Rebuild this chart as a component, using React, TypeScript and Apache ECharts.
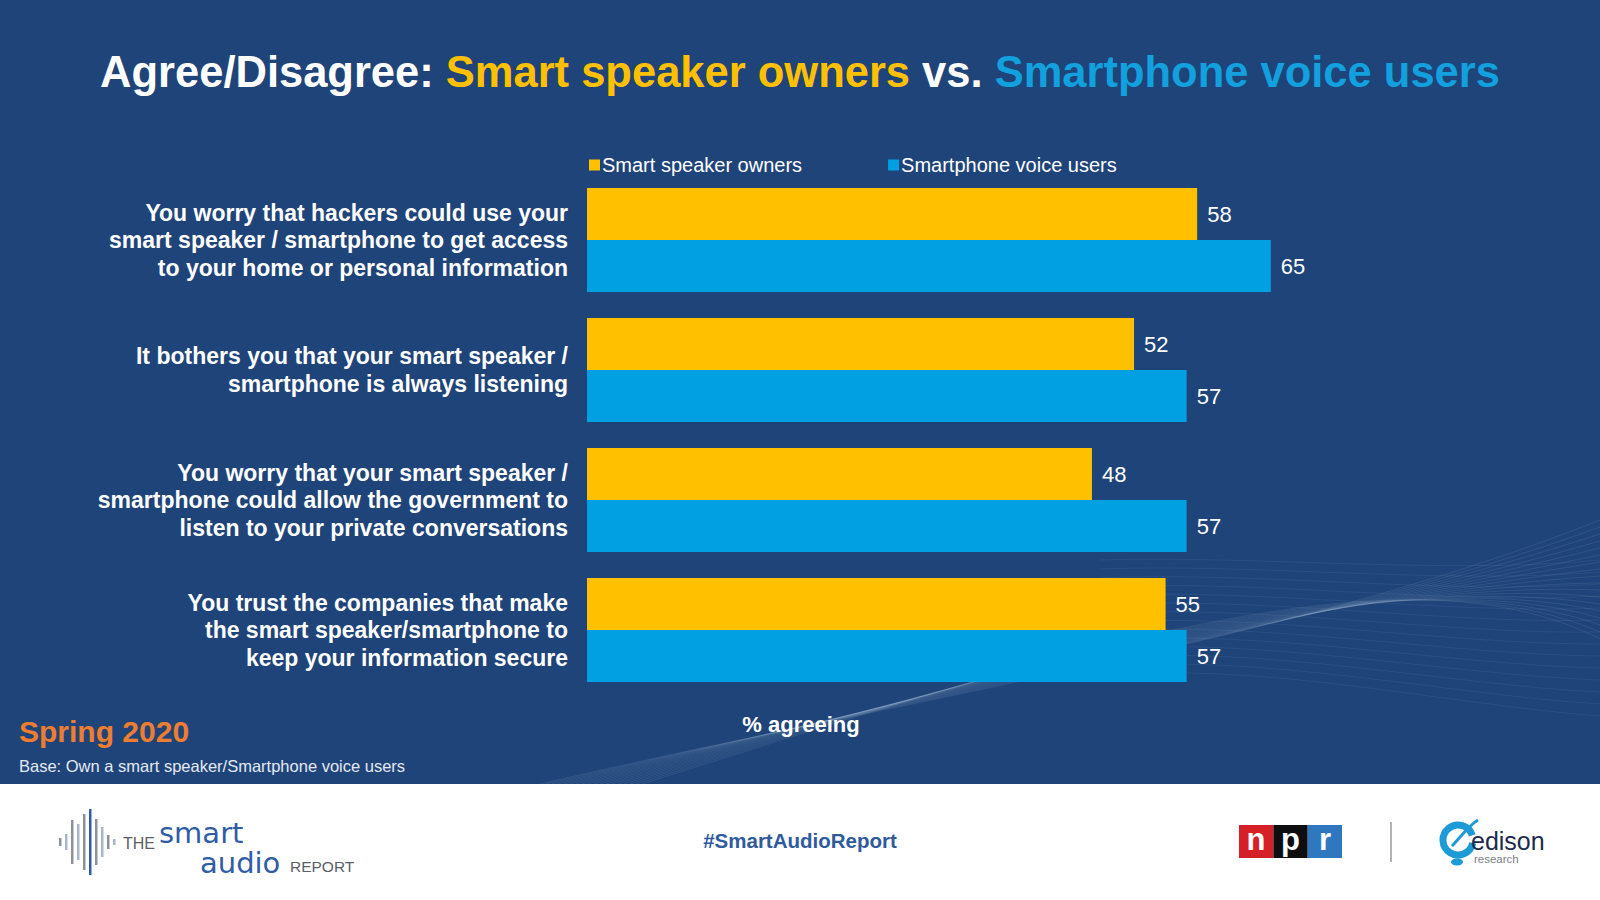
import React, { useEffect, useRef } from "react";
import * as echarts from "echarts";

const categories = [
  "You worry that hackers could use your\nsmart speaker / smartphone to get access\nto your home or personal information",
  "It bothers you that your smart speaker /\nsmartphone is always listening",
  "You worry that your smart speaker /\nsmartphone could allow the government to\nlisten to your private conversations",
  "You trust the companies that make\nthe smart speaker/smartphone to\nkeep your information secure",
];
const seriesNames = ["Smart speaker owners", "Smartphone voice users"];
const smartSpeakerOwners = [58, 52, 48, 55];
const smartphoneVoiceUsers = [65, 57, 57, 57];

const BG = "#1F4479";
const YELLOW = "#FFC000";
const BLUE = "#00A0E2";
const FONT = "Liberation Sans, Arial, sans-serif";

function waveLines(): any[] {
  const out: any[] = [];
  for (let i = 0; i < 18; i++) {
    out.push({
      type: "bezierCurve",
      silent: true,
      shape: {
        x1: 540 + i * 6,
        y1: 784,
        cpx1: 900 + i * 10,
        cpy1: 700 - i * 3,
        cpx2: 1300 + i * 6,
        cpy2: 640 - i * 6,
        x2: 1600,
        y2: 520 + i * 7,
      },
      style: { stroke: "rgba(200,215,240,0.10)", lineWidth: 1, fill: null },
    });
  }
  for (let i = 0; i < 14; i++) {
    out.push({
      type: "bezierCurve",
      silent: true,
      shape: {
        x1: 1100,
        y1: 560 + i * 9,
        cpx1: 1250,
        cpy1: 555 + i * 8,
        cpx2: 1450,
        cpy2: 575 + i * 10,
        x2: 1600,
        y2: 560 + i * 12,
      },
      style: { stroke: "rgba(200,215,240,0.07)", lineWidth: 1, fill: null },
    });
  }
  return out;
}

function logoBars(): any[] {
  const xs = [59, 65, 71, 77, 83, 89, 95, 101, 107, 113];
  const hs = [8, 16, 44, 36, 56, 66, 46, 30, 14, 6];
  return xs.map((x, i) => ({
    type: "rect",
    silent: true,
    shape: { x: x, y: 842 - hs[i] / 2, width: 2.5, height: hs[i] },
    style: { fill: i === 5 ? "#2F5DA5" : i % 2 === 0 ? "#8C929C" : "#A9B6CC" },
  }));
}

export default function App() {
  const ref = useRef<HTMLDivElement>(null);
  useEffect(() => {
    if (!ref.current) return;
    const chart = echarts.init(ref.current, null, { renderer: "svg" });
    const option: any = {
      animation: false,
      backgroundColor: BG,
      title: {
        text:
          "{w|Agree/Disagree: }{y|Smart speaker owners}{w| vs. }{b|Smartphone voice users}",
        left: "center",
        top: 41,
        textStyle: {
          rich: {
            w: { color: "#FFFFFF", fontSize: 43.5, fontWeight: "bold", fontFamily: FONT, lineHeight: 52 },
            y: { color: YELLOW, fontSize: 43.5, fontWeight: "bold", fontFamily: FONT, lineHeight: 52 },
            b: { color: "#12A0DE", fontSize: 43.5, fontWeight: "bold", fontFamily: FONT, lineHeight: 52 },
          },
        },
      },
      legend: {
        left: 584,
        top: 150,
        icon: "rect",
        itemWidth: 11,
        itemHeight: 11,
        itemGap: 86,
        data: seriesNames,
        textStyle: { color: "#FFFFFF", fontSize: 20, fontFamily: FONT, padding: [0, 0, 0, -3] },
      },
      grid: { left: 587, top: 175, width: 841.6, height: 520, containLabel: false },
      xAxis: {
        type: "value",
        min: 0,
        max: 80,
        show: false,
        splitLine: { show: false },
      },
      yAxis: {
        type: "category",
        inverse: true,
        data: categories,
        axisLine: { show: false },
        axisTick: { show: false },
        axisLabel: {
          color: "#FFFFFF",
          fontSize: 23,
          fontWeight: "bold",
          fontFamily: FONT,
          lineHeight: 27.5,
          margin: 19,
          align: "right",
          padding: [4, 0, 0, 0],
        },
      },
      series: [
        {
          name: seriesNames[0],
          type: "bar",
          data: smartSpeakerOwners,
          barWidth: 52,
          barGap: "0%",
          itemStyle: { color: YELLOW },
          label: {
            show: true,
            position: "right",
            distance: 10,
            color: "#FFFFFF",
            fontSize: 22,
            fontFamily: FONT,
          },
        },
        {
          name: seriesNames[1],
          type: "bar",
          data: smartphoneVoiceUsers,
          barWidth: 52,
          barGap: "0%",
          itemStyle: { color: BLUE },
          label: {
            show: true,
            position: "right",
            distance: 10,
            color: "#FFFFFF",
            fontSize: 22,
            fontFamily: FONT,
          },
        },
      ],
      graphic: [
        ...waveLines(),
        {
          type: "rect",
          silent: true,
          shape: { x: 0, y: 784, width: 1600, height: 116 },
          style: { fill: "#FFFFFF" },
        },
        {
          type: "text",
          x: 801,
          y: 724,
          style: {
            text: "% agreeing",
            fill: "#FFFFFF",
            font: "bold 22px " + FONT,
            textAlign: "center",
            textVerticalAlign: "middle",
          },
        },
        {
          type: "text",
          x: 19,
          y: 731,
          style: {
            text: "Spring 2020",
            fill: "#ED7D31",
            font: "bold 30px " + FONT,
            textAlign: "left",
            textVerticalAlign: "middle",
          },
        },
        {
          type: "text",
          x: 19,
          y: 766,
          style: {
            text: "Base: Own a smart speaker/Smartphone voice users",
            fill: "#E4E9F2",
            font: "16.5px " + FONT,
            textAlign: "left",
            textVerticalAlign: "middle",
          },
        },
        {
          type: "text",
          x: 800,
          y: 840,
          style: {
            text: "#SmartAudioReport",
            fill: "#2F5A9C",
            font: "bold 20.5px " + FONT,
            textAlign: "center",
            textVerticalAlign: "middle",
          },
        },
        ...logoBars(),
        {
          type: "text",
          x: 123,
          y: 843,
          style: { text: "THE", fill: "#5A5F68", font: "16px " + FONT, textVerticalAlign: "middle", lineHeight: 16 },
        },
        {
          type: "text",
          x: 159,
          y: 833,
          style: { text: "smart", fill: "#2F5DA5", font: "29px 'DejaVu Sans', sans-serif", textVerticalAlign: "middle", lineHeight: 22 },
        },
        {
          type: "text",
          x: 200,
          y: 863,
          style: { text: "audio", fill: "#2F5DA5", font: "29px 'DejaVu Sans', sans-serif", textVerticalAlign: "middle", lineHeight: 22 },
        },
        {
          type: "text",
          x: 290,
          y: 866,
          style: { text: "REPORT", fill: "#5A5F68", font: "15.5px " + FONT, textVerticalAlign: "middle", lineHeight: 14 },
        },
        {
          type: "rect",
          silent: true,
          shape: { x: 1239, y: 825, width: 34.4, height: 33 },
          style: { fill: "#D62028" },
        },
        {
          type: "rect",
          silent: true,
          shape: { x: 1273.4, y: 825, width: 34.3, height: 33 },
          style: { fill: "#0E0E10" },
        },
        {
          type: "rect",
          silent: true,
          shape: { x: 1307.7, y: 825, width: 34.3, height: 33 },
          style: { fill: "#2F78C0" },
        },
        {
          type: "text",
          x: 1256,
          y: 839,
          style: { text: "n", fill: "#FFFFFF", font: "bold 31px " + FONT, textAlign: "center", textVerticalAlign: "middle" },
        },
        {
          type: "text",
          x: 1290.5,
          y: 839,
          style: { text: "p", fill: "#FFFFFF", font: "bold 31px " + FONT, textAlign: "center", textVerticalAlign: "middle" },
        },
        {
          type: "text",
          x: 1325,
          y: 839,
          style: { text: "r", fill: "#FFFFFF", font: "bold 31px " + FONT, textAlign: "center", textVerticalAlign: "middle" },
        },
        {
          type: "line",
          silent: true,
          shape: { x1: 1391, y1: 822, x2: 1391, y2: 862 },
          style: { stroke: "#9A9A9A", lineWidth: 1.5 },
        },
        {
          type: "arc",
          silent: true,
          shape: { cx: 1458, cy: 840, r: 15, startAngle: 0.2, endAngle: Math.PI * 1.9 },
          style: { stroke: "#1E9BD7", lineWidth: 7, fill: null },
        },
        {
          type: "bezierCurve",
          silent: true,
          shape: { x1: 1452, y1: 846, cpx1: 1460, cpy1: 838, cpx2: 1468, cpy2: 826, x2: 1478, y2: 820 },
          style: { stroke: "#1E9BD7", lineWidth: 3, fill: null },
        },
        {
          type: "ellipse",
          silent: true,
          shape: { cx: 1457, cy: 862, rx: 6, ry: 3.5 },
          style: { fill: "#1E9BD7" },
        },
        {
          type: "text",
          x: 1471,
          y: 841,
          style: { text: "edison", fill: "#1C2B4D", font: "25px " + FONT, textVerticalAlign: "middle", lineHeight: 18 },
        },
        {
          type: "text",
          x: 1474,
          y: 859,
          style: { text: "research", fill: "#7A7F88", font: "11.5px " + FONT, textVerticalAlign: "middle", lineHeight: 10 },
        },
      ],
    };
    chart.setOption(option);
    return () => chart.dispose();
  }, []);
  return (
    <div
      ref={ref}
      style={{ position: "fixed", left: 0, top: 0, width: "1600px", height: "900px" }}
    />
  );
}
